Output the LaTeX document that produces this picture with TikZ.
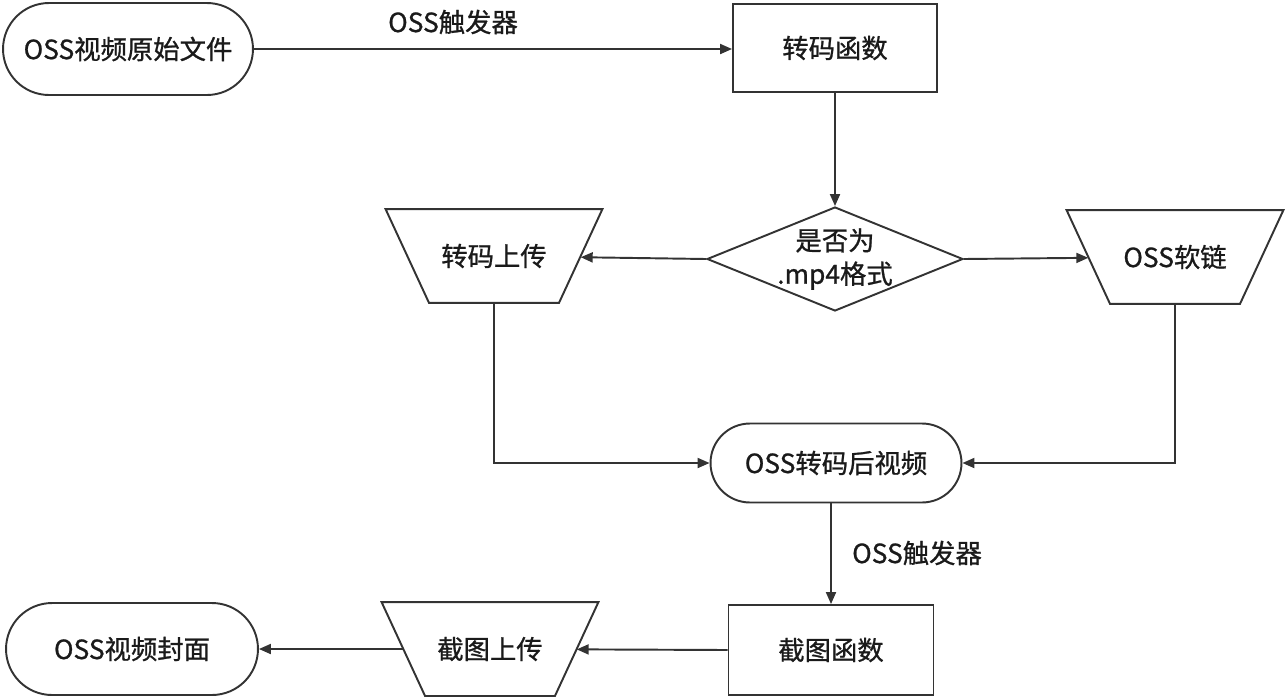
\documentclass[tikz,border=0pt]{standalone}
\usepackage{fontspec}
\setmainfont{Noto Sans CJK SC}
\newfontfamily\medfont{Noto Sans CJK SC}[FakeBold=0.9]
\usetikzlibrary{arrows.meta,shapes.geometric,shapes.misc}
\definecolor{edge}{HTML}{333333}
\definecolor{ink}{HTML}{1A1A1A}
\tikzset{
  box/.style={draw=edge,line width=1.1pt,align=center,font=\medfont\fontsize{15}{19}\selectfont,text=ink,inner sep=0pt},
  term/.style={box,rounded rectangle,minimum width=5cm,minimum height=1.84cm},
  func/.style={box,rectangle,minimum width=4.08cm,minimum height=1.76cm},
  decide/.style={box,diamond,aspect=2.46,inner sep=-3pt,minimum width=5.12cm,minimum height=2.08cm},
  % trapezoid: node box is the mid-height width, outline drawn after
  upl/.style={box,draw=none,minimum width=3.43cm,minimum height=1.84cm,
    append after command={\pgfextra{\draw[edge,line width=1.1pt,line join=miter]
      ([xshift=-4.35mm]\tikzlastnode.north west) -- ([xshift=4.35mm]\tikzlastnode.north east)
      -- ([xshift=-4.35mm]\tikzlastnode.south east) -- ([xshift=4.35mm]\tikzlastnode.south west) -- cycle;}}},
  lbl/.style={font=\medfont\fontsize{15}{19}\selectfont,text=ink},
  ar/.style={-{Triangle[length=2.4mm,width=2mm]},line width=1.1pt,draw=edge},
}

\begin{document}
\begin{tikzpicture}[x=0.02cm,y=-0.02cm]
  \useasboundingbox (0,0) rectangle (1285,697);
  % top row
  \node[term] (src) at (128,49) {OSS视频原始文件};
  \node[func] (zmhs) at (835,48) {转码函数};
  \node[lbl] (trig1) at (453,22) {OSS触发器};
  % decision
  \node[decide] (dia) at (835,259) {是否为\\.mp4格式};
  \node[upl] (zmsc) at (494,256) {转码上传};
  \node[upl] (rl) at (1175,257) {OSS软链};
  % middle
  \node[term,minimum width=5.02cm,minimum height=1.58cm] (dst) at (836,463) {OSS转码后视频};
  \node[lbl] (trig2) at (917,553) {OSS触发器};
  % bottom row
  \node[func,minimum width=4.1cm,minimum height=1.8cm] (jths) at (831,650) {截图函数};
  \node[upl] (jtsc) at (490,649) {截图上传};
  \node[term,minimum width=5.04cm] (fm) at (132,649) {OSS视频封面};

  \draw[ar] (src.east) -- (src.east -| zmhs.west);
  \draw[ar] (zmhs.south) -- (dia.north);
  \draw[ar] (dia.west) -- (zmsc);
  \draw[ar] (dia.east) -- (rl);
  \draw[ar] (zmsc.south) |- (dst.west);
  \draw[ar] (rl.south) |- (dst.east);
  \draw[ar] (jths.north |- dst.south) -- (jths.north);
  \draw[ar] (jths.west) -- (jtsc);
  \draw[ar] (jtsc) -- (fm);
\end{tikzpicture}
\end{document}
